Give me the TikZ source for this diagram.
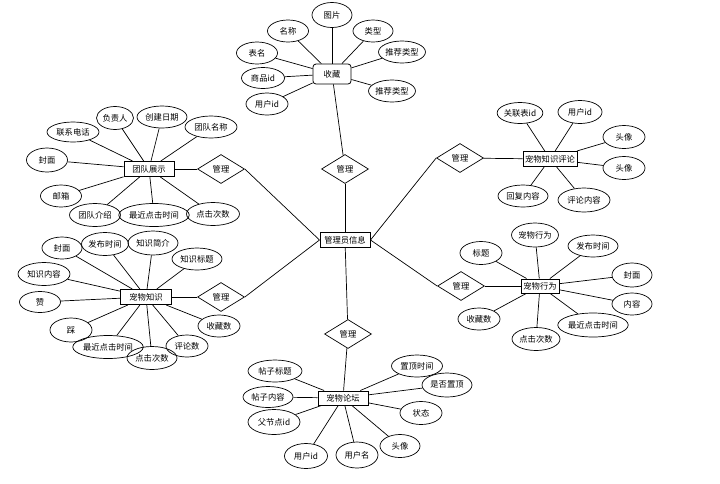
\documentclass[tikz,border=0pt]{standalone}
\usepackage{fontspec}
\newfontfamily\cjk{Noto Sans CJK SC}
\usetikzlibrary{shapes.geometric}
\begin{document}
\begin{tikzpicture}[x=1pt,y=-1pt,
  every node/.style={font=\cjk\fontsize{8.3}{9}\selectfont},
  attr/.style={ellipse,draw,line width=0.7pt,inner sep=0pt,minimum height=22pt},
  ent/.style={rectangle,draw,line width=1pt,inner sep=0pt,minimum height=15pt},
  rel/.style={diamond,draw,line width=0.7pt,inner sep=0pt,minimum width=47pt,minimum height=29pt},
  conn/.style={line width=0.7pt}]
\useasboundingbox (0,0) rectangle (720,483);
% center
\node[ent,minimum width=50pt] (adm) at (345,240) {管理员信息};
% relations
\node[rel] (rt) at (345,169) {管理};
\node[rel] (rul) at (221,169) {管理};
\node[rel] (rur) at (460,158) {管理};
\node[rel] (rll) at (221,297) {管理};
\node[rel] (rlr) at (461,286) {管理};
\node[rel] (rb) at (348,334) {管理};
% entities
\node[ent,rounded corners=3pt,line width=0.8pt,minimum width=38pt,minimum height=20pt] (sc) at (332,74) {收藏};
\node[ent,minimum width=50pt] (td) at (149,169) {团队展示};
\node[ent,minimum width=54pt] (pc) at (550,159) {宠物知识评论};
\node[ent,minimum width=51pt] (pk) at (146,297) {宠物知识};
\node[ent,minimum width=38pt,minimum height=14pt] (pb) at (540,286) {宠物行为};
\node[ent,minimum width=50pt,minimum height=14pt] (pf) at (343,398) {宠物论坛};
% admin links
\draw[conn] (adm) -- (rt); \draw[conn] (rt) -- (sc);
\draw[conn] (rul.east) -- (adm.west); \draw[conn] (rul) -- (td);
\draw[conn] (rur.west) -- (adm.east); \draw[conn] (rur) -- (pc);
\draw[conn] (rll.east) -- (adm.west); \draw[conn] (rll) -- (pk);
\draw[conn] (rlr.west) -- (adm.east); \draw[conn] (rlr) -- (pb);
\draw[conn] (adm) -- (rb); \draw[conn] (rb) -- (pf);
% 收藏 attributes
\node[attr,minimum width=41pt] (s1) at (288,31) {名称};
\node[attr,minimum width=40pt,minimum height=25pt] (s2) at (332,15) {图片};
\node[attr,minimum width=40pt] (s3) at (373,31) {类型};
\node[attr,minimum width=41pt] (s4) at (257,53) {表名};
\node[attr,minimum width=44pt] (s5) at (402,52) {推荐类型};
\node[attr,minimum width=43pt,minimum height=21pt] (s6) at (263,78) {商品id};
\node[attr,minimum width=43pt] (s7) at (392,91) {推荐类型};
\node[attr,minimum width=42pt] (s8) at (267,104) {用户id};
\foreach \n in {s1,s2,s3,s4,s5,s6,s7,s8} \draw[conn] (sc) -- (\n);
% 团队展示 attributes
\node[attr,minimum width=52pt,minimum height=20pt] (t1) at (73,132) {联系电话};
\node[attr,minimum width=37pt,minimum height=23pt] (t2) at (115,118) {负责人};
\node[attr,minimum width=50pt] (t3) at (162,117) {创建日期};
\node[attr,minimum width=52pt] (t4) at (211,127) {团队名称};
\node[attr,minimum width=41pt,minimum height=24pt] (t5) at (47,160) {封面};
\node[attr,minimum width=41pt] (t6) at (61,196) {邮箱};
\node[attr,minimum width=51pt,minimum height=23pt] (t7) at (95,215) {团队介绍};
\node[attr,minimum width=68pt,minimum height=23pt] (t8) at (154,215) {最近点击时间};
\node[attr,minimum width=53pt,minimum height=23pt] (t9) at (213,214) {点击次数};
\foreach \n in {t1,t2,t3,t4,t5,t6,t7,t8,t9} \draw[conn] (td) -- (\n);
% 宠物知识评论 attributes
\node[attr,minimum width=44pt,minimum height=21pt] (c1) at (520,113) {关联表id};
\node[attr,minimum width=44pt,minimum height=23pt] (c2) at (580,112) {用户id};
\node[attr,minimum width=42pt,minimum height=23pt] (c3) at (624,137) {头像};
\node[attr,minimum width=42pt,minimum height=23pt] (c4) at (624,168) {头像};
\node[attr,minimum width=50pt] (c5) at (523,196) {回复内容};
\node[attr,minimum width=52pt,minimum height=24pt] (c6) at (584,200) {评论内容};
\foreach \n in {c1,c2,c3,c4,c5,c6} \draw[conn] (pc) -- (\n);
% 宠物知识 attributes
\node[attr,minimum width=40pt] (k1) at (62,248) {封面};
\node[attr,minimum width=46pt,minimum height=23pt] (k2) at (105,244) {发布时间};
\node[attr,minimum width=50pt,minimum height=24pt] (k3) at (153,243) {知识简介};
\node[attr,minimum width=50pt] (k4) at (197,259) {知识标题};
\node[attr,minimum width=52pt,minimum height=23pt] (k5) at (44,274) {知识内容};
\node[attr,minimum width=41pt,minimum height=21pt] (k6) at (40,302) {赞};
\node[attr,minimum width=42pt,minimum height=24pt] (k7) at (71,330) {踩};
\node[attr,minimum width=42pt] (k8) at (219,326) {收藏数};
\node[attr,minimum width=42pt] (k9) at (187,346) {评论数};
\node[attr,minimum width=58pt,minimum height=23pt] (k10) at (108,347) {最近点击时间};
\node[attr,minimum width=50pt,minimum height=23pt] (k11) at (152,358) {点击次数};
\foreach \n in {k1,k2,k3,k4,k5,k6,k7,k8,k9,k10,k11} \draw[conn] (pk) -- (\n);
% 宠物行为 attributes
\node[attr,minimum width=44pt,minimum height=24pt] (b1) at (535,235) {宠物行为};
\node[attr,minimum width=42pt,minimum height=23pt] (b2) at (481,253) {标题};
\node[attr,minimum width=50pt] (b3) at (593,246) {发布时间};
\node[attr,minimum width=40pt,minimum height=24pt] (b4) at (632,275) {封面};
\node[attr,minimum width=40pt] (b5) at (632,304) {内容};
\node[attr,minimum width=63pt,minimum height=24pt] (b6) at (593,325) {最近点击时间};
\node[attr,minimum width=48pt,minimum height=23pt] (b7) at (536,339) {点击次数};
\node[attr,minimum width=42pt] (b8) at (479,319) {收藏数};
\foreach \n in {b1,b2,b3,b4,b5,b6,b7,b8} \draw[conn] (pb) -- (\n);
% 宠物论坛 attributes
\node[attr,minimum width=54pt] (f1) at (275,371) {帖子标题};
\node[attr,minimum width=50pt,minimum height=21pt] (f2) at (268,397) {帖子内容};
\node[attr,minimum width=52pt,minimum height=25pt] (f3) at (274,422) {父节点id};
\node[attr,minimum width=51pt] (f4) at (417,366) {置顶时间};
\node[attr,minimum width=50pt,minimum height=24pt] (f5) at (447,385) {是否置顶};
\node[attr,minimum width=42pt,minimum height=23pt] (f6) at (421,413) {状态};
\node[attr,minimum width=40pt,minimum height=23pt] (f7) at (400,446) {头像};
\node[attr,minimum width=42pt,minimum height=26pt] (f8) at (357,455) {用户名};
\node[attr,minimum width=43pt,minimum height=25pt] (f9) at (306,456) {用户id};
\foreach \n in {f1,f2,f3,f4,f5,f6,f7,f8,f9} \draw[conn] (pf) -- (\n);
\end{tikzpicture}
\end{document}
